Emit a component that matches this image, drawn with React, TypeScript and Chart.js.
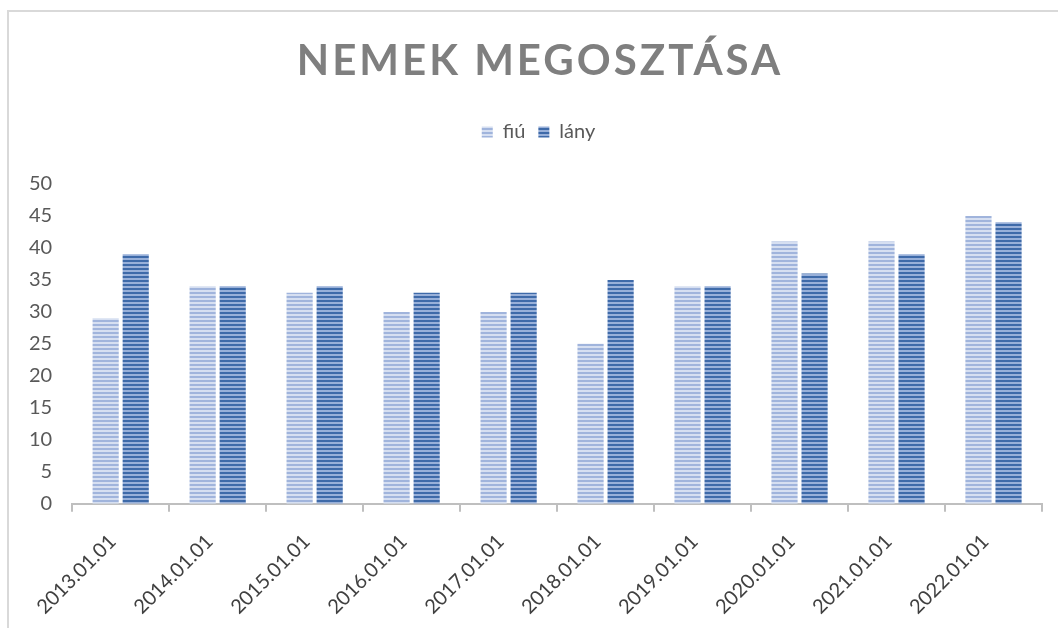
import React, { useEffect, useRef } from "react";
import { Chart, registerables } from "chart.js";

Chart.register(...registerables);

const TITLE = "NEMEK MEGOSZTÁSA";
const categories = [
  "2013.01.01",
  "2014.01.01",
  "2015.01.01",
  "2016.01.01",
  "2017.01.01",
  "2018.01.01",
  "2019.01.01",
  "2020.01.01",
  "2021.01.01",
  "2022.01.01",
];
const fiuValues = [29, 34, 33, 30, 30, 25, 34, 41, 41, 45];
const lanyValues = [39, 34, 34, 33, 33, 35, 34, 36, 39, 44];
const seriesNames = ["fiú", "lány"];

function stripe(dark: string, light: string): CanvasPattern | string {
  const c = document.createElement("canvas");
  c.width = 4;
  c.height = 4;
  const x = c.getContext("2d");
  if (!x) return dark;
  x.fillStyle = light;
  x.fillRect(0, 0, 4, 4);
  x.fillStyle = dark;
  x.fillRect(0, 0, 4, 2);
  return x.createPattern(c, "repeat") || dark;
}

const framePlugin = {
  id: "frame",
  beforeDraw(chart: any) {
    const ctx = chart.ctx;
    ctx.save();
    ctx.fillStyle = "#ffffff";
    ctx.fillRect(0, 0, chart.width, chart.height);
    ctx.strokeStyle = "#d9d9d9";
    ctx.lineWidth = 2;
    ctx.strokeRect(8, 11, chart.width + 40, chart.height + 40);
    ctx.restore();
  },
};

const titlePlugin = {
  id: "spacedTitle",
  afterDraw(chart: any) {
    const ctx = chart.ctx;
    ctx.save();
    ctx.font = "bold 42px Lato";
    ctx.fillStyle = "#7f7f7f";
    ctx.textAlign = "center";
    ctx.textBaseline = "alphabetic";
    (ctx as any).letterSpacing = "3px";
    ctx.fillText(TITLE, 540, 75);
    ctx.restore();
  },
};

const LEGEND_SHIFT_X = 13;

const legendSpacer = {
  id: "legendSpacer",
  beforeLayout(chart: any) {
    const lg = chart.legend;
    if (lg && !lg._spaced) {
      const f = lg.fit;
      lg.fit = function () {
        f.call(this);
        this.height += 32;
      };
      const d = lg.draw;
      lg.draw = function () {
        const ctx = this.ctx;
        ctx.save();
        ctx.translate(LEGEND_SHIFT_X, 0);
        d.call(this);
        ctx.restore();
      };
      lg._spaced = true;
    }
  },
};

export default function App() {
  const ref = useRef<HTMLCanvasElement | null>(null);

  useEffect(() => {
    if (!ref.current) return;
    const fiuFill = stripe("#a0b4dc", "#d6dff1");
    const lanyFill = stripe("#3e6aa9", "#98b0d9");
    const chart = new Chart(ref.current, {
      type: "bar",
      data: {
        labels: categories,
        datasets: [
          {
            label: seriesNames[0],
            data: fiuValues,
            backgroundColor: fiuFill as any,
            borderWidth: 0,
            categoryPercentage: 0.62,
            barPercentage: 0.87,
          },
          {
            label: seriesNames[1],
            data: lanyValues,
            backgroundColor: lanyFill as any,
            borderWidth: 0,
            categoryPercentage: 0.62,
            barPercentage: 0.87,
          },
        ],
      },
      options: {
        responsive: false,
        animation: false,
        layout: { padding: { top: 109, left: 9, right: 16, bottom: -9 } },
        plugins: {
          title: { display: false },
          tooltip: { enabled: false },
          legend: {
            position: "top",
            labels: {
              boxWidth: 11,
              boxHeight: 11,
              padding: 13,
              color: "#595959",
              font: { family: "Lato", size: 20 },
            },
          },
        },
        scales: {
          x: {
            afterFit: (scale: any) => {
              scale.paddingLeft = 0;
              scale.paddingRight = 0;
            },
            grid: {
              display: true,
              drawOnChartArea: false,
              drawTicks: true,
              tickLength: 8,
              color: "#bfbfbf",
              lineWidth: 2,
              offset: true,
            },
            border: { display: true, color: "#bfbfbf", width: 2 },
            ticks: {
              minRotation: 45,
              maxRotation: 45,
              autoSkip: false,
              padding: 18,
              labelOffset: -8,
              color: "#404040",
              font: { family: "Lato", size: 20 },
            },
          },
          y: {
            min: 0,
            max: 50,
            grid: { display: false, drawTicks: false },
            border: { display: false },
            ticks: {
              stepSize: 5,
              padding: 20,
              color: "#595959",
              font: { family: "Lato", size: 20 },
            },
          },
        },
      },
      plugins: [framePlugin, titlePlugin, legendSpacer],
    });
    return () => chart.destroy();
  }, []);

  return (
    <div
      style={{
        position: "fixed",
        left: 0,
        top: 0,
        width: 1058,
        height: 628,
        background: "#ffffff",
      }}
    >
      <canvas ref={ref} width={1058} height={628} />
    </div>
  );
}
